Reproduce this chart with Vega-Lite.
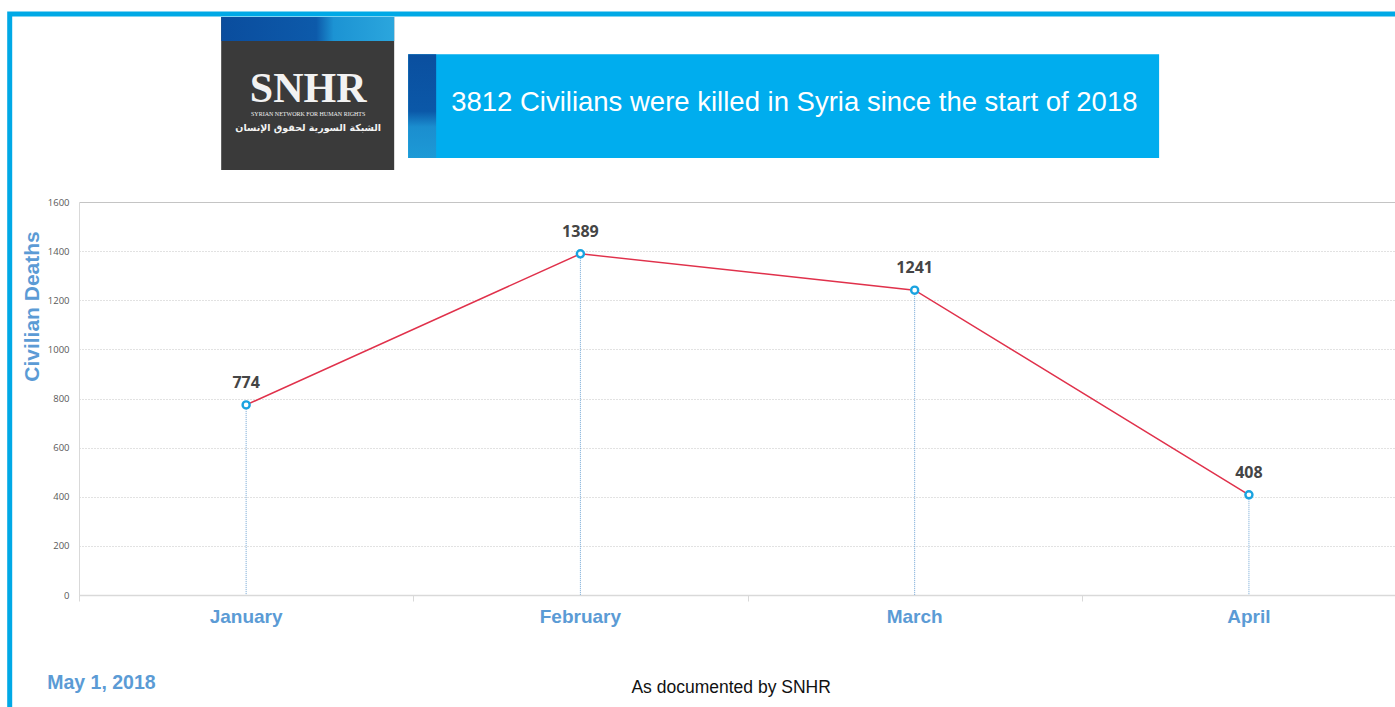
{
  "$schema": "https://vega.github.io/schema/vega-lite/v6.json",
  "width": 1316,
  "height": 393,
  "autosize": {"type": "none"},
  "padding": {"left": 79, "top": 202, "right": 0, "bottom": 112},
  "background": "white",
  "config": {"view": {"stroke": null}},
  "data": {"values": [
    {"m": 1, "month": "January", "deaths": 774},
    {"m": 2, "month": "February", "deaths": 1389},
    {"m": 3, "month": "March", "deaths": 1241},
    {"m": 4, "month": "April", "deaths": 408}
  ]},
  "layer": [
    {
      "data": {"values": [{"part": "frame"}]},
      "mark": {"type": "rect", "fill": null, "fillOpacity": 0, "stroke": "#00A9E6", "strokeWidth": 5},
      "encoding": {
        "x": {"datum": 0.2927, "type": "quantitative"},
        "x2": {"datum": 6},
        "y": {"datum": 2365, "type": "quantitative"},
        "y2": {"datum": -2000}
      }
    },
    {
      "mark": {"type": "rule", "color": "#6FA4D4", "strokeDash": [1, 1], "strokeWidth": 1},
      "encoding": {
        "x": {"field": "m", "type": "quantitative",
          "scale": {"domain": [0.5, 4.437], "nice": false, "zero": false},
          "axis": {"values": [0.5, 1.5, 2.5, 3.5], "labels": false, "grid": false, "title": null,
            "domainColor": "#D9D9D9", "domainWidth": 1.5, "tickColor": "#D9D9D9", "tickSize": 6, "tickWidth": 1}},
        "y": {"field": "deaths", "type": "quantitative",
          "scale": {"domain": [0, 1600], "nice": false, "zero": true},
          "axis": {"values": [0, 200, 400, 600, 800, 1000, 1200, 1400, 1600], "format": "d",
            "title": "Civilian Deaths", "titleFont": "Liberation Sans", "titleFontSize": 21, "titleFontWeight": "bold",
            "titleColor": "#5B9BD5", "titleX": -47, "titleY": 104, "titleAngle": 270, "titleAlign": "center", "titleBaseline": "middle",
            "labelFont": "Open Sans", "labelFontSize": 9.5, "labelColor": "#595959", "labelPadding": 10,
            "ticks": false, "domainColor": "#D9D9D9", "domainWidth": 1,
            "grid": true, "gridColor": "#C4C4C4", "gridWidth": 1,
            "gridDash": {"condition": {"test": "datum.value == 1600", "value": []}, "value": [1, 2]}}},
        "y2": {"datum": 0}
      }
    },
    {
      "mark": {"type": "line", "color": "#E0314B", "strokeWidth": 1.5},
      "encoding": {
        "x": {"field": "m", "type": "quantitative"},
        "y": {"field": "deaths", "type": "quantitative"}
      }
    },
    {
      "mark": {"type": "point", "shape": "circle", "filled": true, "fill": "white", "stroke": "#1AA3E0", "strokeWidth": 2.4, "size": 50, "opacity": 1},
      "encoding": {
        "x": {"field": "m", "type": "quantitative"},
        "y": {"field": "deaths", "type": "quantitative"}
      }
    },
    {
      "mark": {"type": "text", "font": "Open Sans", "fontSize": 16, "fontWeight": "bold", "color": "#454545", "dy": -22, "baseline": "middle", "align": "center"},
      "encoding": {
        "x": {"field": "m", "type": "quantitative"},
        "y": {"field": "deaths", "type": "quantitative"},
        "text": {"field": "deaths", "type": "quantitative"}
      }
    },
    {
      "mark": {"type": "text", "font": "Liberation Sans", "fontSize": 19, "fontWeight": "bold", "color": "#5B9BD5", "dy": 22, "baseline": "middle", "align": "center"},
      "encoding": {
        "x": {"field": "m", "type": "quantitative"},
        "y": {"datum": 0, "type": "quantitative"},
        "text": {"field": "month", "type": "nominal"}
      }
    },
    {
      "data": {"values": [{"part": "logo"}]},
      "mark": {"type": "rect", "fill": "#3A3A3A"},
      "encoding": {
        "x": {"datum": 0.9254, "type": "quantitative"},
        "x2": {"datum": 1.4429},
        "y": {"datum": 2353, "type": "quantitative"},
        "y2": {"datum": 1730}
      }
    },
    {
      "data": {"values": [{"part": "logo band"}]},
      "mark": {"type": "rect", "fill": {"gradient": "linear", "x1": 0, "x2": 1, "y1": 0, "y2": 0,
        "stops": [{"offset": 0, "color": "#0A4D9E"}, {"offset": 0.55, "color": "#0D5AAA"}, {"offset": 0.65, "color": "#1C93D3"}, {"offset": 1, "color": "#2BA6DD"}]}},
      "encoding": {
        "x": {"datum": 0.9254, "type": "quantitative"},
        "x2": {"datum": 1.4429},
        "y": {"datum": 2353, "type": "quantitative"},
        "y2": {"datum": 2255}
      }
    },
    {
      "data": {"values": [{"part": "logo text"}]},
      "mark": {"type": "text", "text": "SNHR", "font": "Liberation Serif", "fontSize": 42, "fontWeight": "bold", "color": "#F2F2F2", "align": "center", "baseline": "alphabetic", "letterSpacing": -1},
      "encoding": {
        "x": {"datum": 1.1856, "type": "quantitative"},
        "y": {"datum": 2007, "type": "quantitative"}
      }
    },
    {
      "data": {"values": [{"part": "logo sub"}]},
      "mark": {"type": "text", "text": "SYRIAN NETWORK FOR HUMAN RIGHTS", "font": "Liberation Sans Narrow", "fontSize": 6, "color": "#F2F2F2", "align": "center", "baseline": "middle"},
      "encoding": {
        "x": {"datum": 1.1856, "type": "quantitative"},
        "y": {"datum": 1957, "type": "quantitative"}
      }
    },
    {
      "data": {"values": [{"part": "logo arabic"}]},
      "mark": {"type": "text", "text": "الشبكة السورية لحقوق الإنسان", "font": "DejaVu Sans", "fontSize": 9.5, "fontWeight": "bold", "color": "#F2F2F2", "align": "center", "baseline": "middle"},
      "encoding": {
        "x": {"datum": 1.1856, "type": "quantitative"},
        "y": {"datum": 1903, "type": "quantitative"}
      }
    },
    {
      "data": {"values": [{"part": "banner"}]},
      "mark": {"type": "rect", "fill": "#00ADEE"},
      "encoding": {
        "x": {"datum": 1.4848, "type": "quantitative"},
        "x2": {"datum": 3.7313},
        "y": {"datum": 2202, "type": "quantitative"},
        "y2": {"datum": 1779}
      }
    },
    {
      "data": {"values": [{"part": "banner strip"}]},
      "mark": {"type": "rect", "fill": {"gradient": "linear", "x1": 0, "x2": 0, "y1": 0, "y2": 1,
        "stops": [{"offset": 0, "color": "#0A4F9F"}, {"offset": 0.55, "color": "#0B58A8"}, {"offset": 0.7, "color": "#1B8ECF"}, {"offset": 1, "color": "#1D9AD6"}]}},
      "encoding": {
        "x": {"datum": 1.4848, "type": "quantitative"},
        "x2": {"datum": 1.5685},
        "y": {"datum": 2202, "type": "quantitative"},
        "y2": {"datum": 1779}
      }
    },
    {
      "data": {"values": [{"part": "banner text"}]},
      "mark": {"type": "text", "text": "3812 Civilians were killed in Syria since the start of 2018", "font": "Liberation Sans", "fontSize": 27.5, "color": "white", "align": "left", "baseline": "middle"},
      "encoding": {
        "x": {"datum": 1.6134, "type": "quantitative"},
        "y": {"datum": 2003, "type": "quantitative"}
      }
    },
    {
      "data": {"values": [{"part": "date"}]},
      "mark": {"type": "text", "text": "May 1, 2018", "font": "Liberation Sans", "fontSize": 19.5, "fontWeight": "bold", "color": "#5B9BD5", "align": "left", "baseline": "middle"},
      "encoding": {
        "x": {"datum": 0.4049, "type": "quantitative"},
        "y": {"datum": -358, "type": "quantitative"}
      }
    },
    {
      "data": {"values": [{"part": "source"}]},
      "mark": {"type": "text", "text": "As documented by SNHR", "font": "Liberation Sans", "fontSize": 17.5, "color": "#111111", "align": "center", "baseline": "middle"},
      "encoding": {
        "x": {"datum": 2.451, "type": "quantitative"},
        "y": {"datum": -379, "type": "quantitative"}
      }
    }
  ]
}
